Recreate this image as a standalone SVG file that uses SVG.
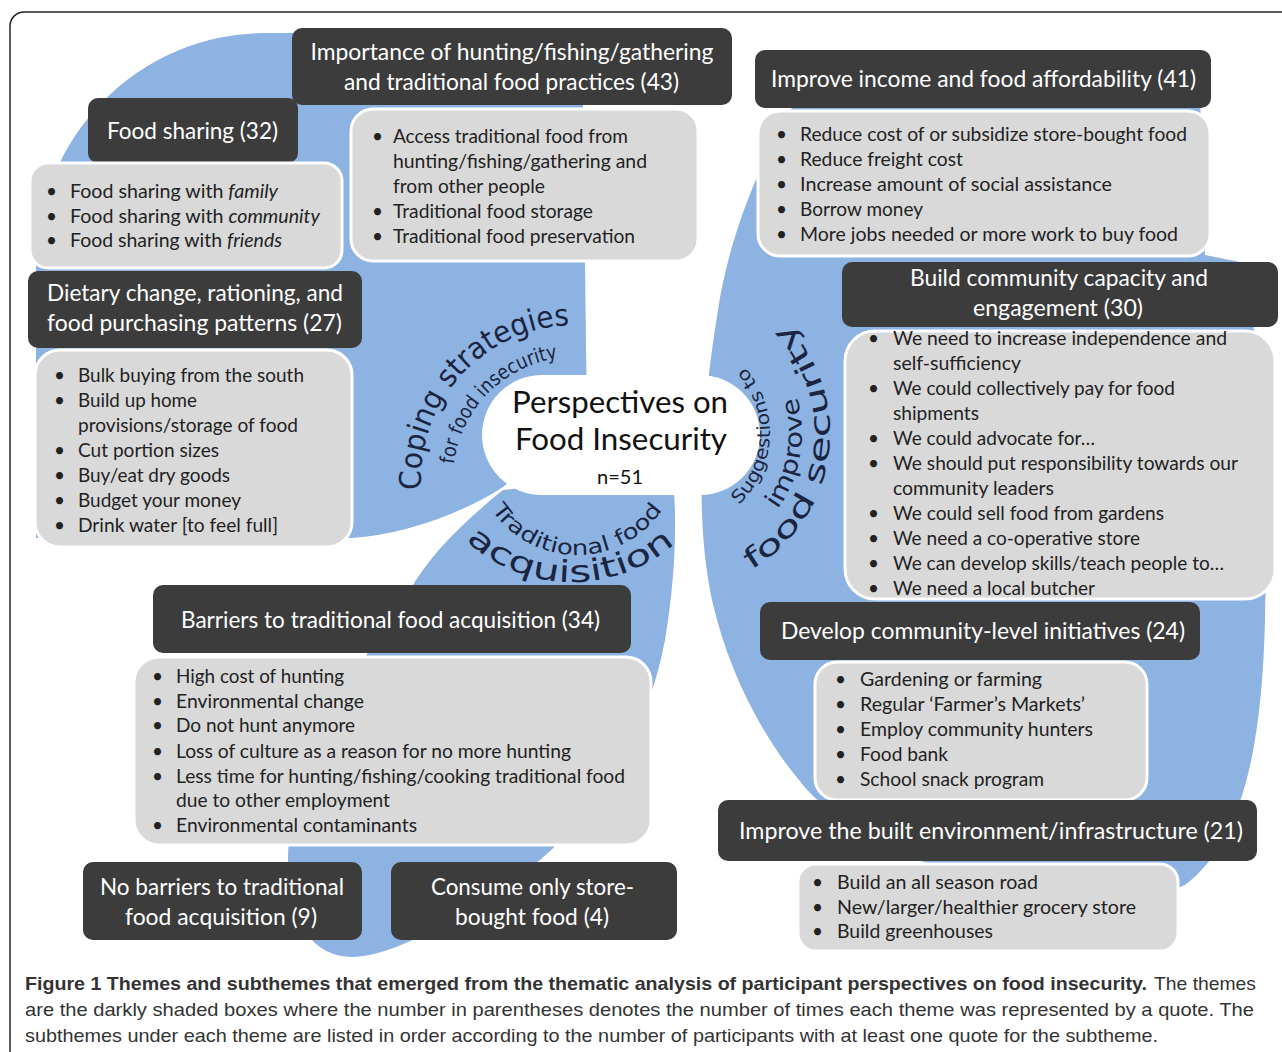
<svg xmlns="http://www.w3.org/2000/svg" width="1282" height="1052" viewBox="0 0 1282 1052">
<style>
.pet{fill:#8db3e2}
.dk{fill:#3c3c3c}
.gr{fill:#d9d9d9;stroke:#fff;stroke-width:3}
.tt{font-family:Lato,"Liberation Sans",sans-serif;font-size:23px;fill:#fff;text-anchor:middle}
.st{font-family:Lato,"Liberation Sans",sans-serif;font-size:19px;fill:#222}
.arc{font-family:"DejaVu Sans",Verdana,sans-serif;fill:#1b2440}
.ctr{font-family:Lato,"Liberation Sans",sans-serif;fill:#111;text-anchor:middle}
.cap{font-family:"Liberation Sans",Arial,sans-serif;font-size:19px;fill:#333}
</style>
<defs>
<path id="aCop" d="M 421.4,489.7 A 154,154 0 0 1 569.6,325.1"/>
<path id="aFor" d="M 453.9,464.1 A 122,122 0 0 1 558,358.2"/>
<path id="aTra" d="M 491.6,509.6 A 103,103 0 0 0 662.4,509.6"/>
<path id="aAcq" d="M 465.9,540.4 A 150,142 0 0 0 678.1,540.4"/>
<path id="aSug" d="M 738.8,504.7 A 98,98 0 0 0 744.8,367.4"/>
<path id="aImp" d="M 777.2,509.4 A 130,130 0 0 0 797,397.2"/>
<path id="aFoo" d="M 751,569.8 A 158,158 0 0 0 785.7,323.2"/>
</defs>
<rect width="1282" height="1052" fill="#fff"/>
<rect x="10" y="12" width="1320" height="1100" rx="14" fill="none" stroke="#222" stroke-width="1.5"/>

<g id="petals">
<path class="pet" d="M 582,33 L 265,33 A 229,233 0 0 0 36,266 L 36,538 L 352,538 C 400,535 460,515 503,487 L 587,420 Z"/>
<path class="pet" d="M 503,490 C 460,525 430,555 410,590 C 340,690 288,780 288,860 C 288,925 315,957 352,957 C 400,957 480,905 540,860 C 610,800 650,720 665,640 C 675,580 678,520 672,470 Z"/>
<path class="pet" d="M 800,95 C 765,150 730,230 718,310 C 700,420 695,520 712,600 C 730,680 770,750 812,795 C 880,860 1080,935 1185,885 C 1245,840 1262,740 1265,620 C 1268,480 1262,330 1240,262 L 1205,255 L 1200,95 Z"/>
</g>

<g id="center">
<rect x="482" y="375" width="278" height="120" rx="60" fill="#fff"/>
<text class="ctr" x="620" y="413" font-size="30" textLength="216" lengthAdjust="spacingAndGlyphs">Perspectives on</text>
<text class="ctr" x="621" y="450" font-size="30" textLength="212" lengthAdjust="spacingAndGlyphs">Food Insecurity</text>
<text class="ctr" x="620" y="484" font-size="20" textLength="46" lengthAdjust="spacingAndGlyphs">n=51</text>
</g>

<g id="arc-labels">
<text class="arc" font-size="30"><textPath href="#aCop" textLength="247" lengthAdjust="spacingAndGlyphs">Coping strategies</textPath></text>
<text class="arc" font-size="20"><textPath href="#aFor" textLength="159" lengthAdjust="spacingAndGlyphs">for food insecurity</textPath></text>
<text class="arc" font-size="21"><textPath href="#aTra" textLength="201" lengthAdjust="spacingAndGlyphs">Traditional food</textPath></text>
<text class="arc" font-size="30"><textPath href="#aAcq" textLength="229" lengthAdjust="spacingAndGlyphs">acquisition</textPath></text>
<text class="arc" font-size="18"><textPath href="#aSug" textLength="152" lengthAdjust="spacingAndGlyphs">Suggestions to</textPath></text>
<text class="arc" font-size="24"><textPath href="#aImp" textLength="118" lengthAdjust="spacingAndGlyphs">improve</textPath></text>
<text class="arc" font-size="28"><textPath href="#aFoo" textLength="287" lengthAdjust="spacingAndGlyphs">food security</textPath></text>
</g>

<g id="connectors"></g>

<g id="n-importance">
<rect class="dk" x="292" y="28" width="440" height="77" rx="10"/>
<text class="tt" x="512" y="60" textLength="403" lengthAdjust="spacingAndGlyphs">Importance of hunting/fishing/gathering</text>
<text class="tt" x="511.5" y="90" textLength="335" lengthAdjust="spacingAndGlyphs">and traditional food practices (43)</text>
</g>
<g id="n-importance-sub">
<rect class="gr" x="351" y="109" width="347" height="152" rx="22"/>
<text class="st" x="372" y="143">•</text><text class="st" x="393" y="143" textLength="235" lengthAdjust="spacingAndGlyphs">Access traditional food from</text>
<text class="st" x="393" y="168" textLength="254" lengthAdjust="spacingAndGlyphs">hunting/fishing/gathering and</text>
<text class="st" x="393" y="193" textLength="152" lengthAdjust="spacingAndGlyphs">from other people</text>
<text class="st" x="372" y="218">•</text><text class="st" x="393" y="218" textLength="200" lengthAdjust="spacingAndGlyphs">Traditional food storage</text>
<text class="st" x="372" y="243">•</text><text class="st" x="393" y="243" textLength="242" lengthAdjust="spacingAndGlyphs">Traditional food preservation</text>
</g>

<g id="n-foodsharing">
<rect class="dk" x="88" y="98" width="210" height="65" rx="10"/>
<text class="tt" x="192.5" y="139" textLength="171" lengthAdjust="spacingAndGlyphs">Food sharing (32)</text>
</g>
<g id="n-foodsharing-sub">
<rect class="gr" x="30" y="163" width="312" height="105" rx="18"/>
<text class="st" x="46" y="198">•</text><text class="st" x="70" y="198" textLength="208" lengthAdjust="spacingAndGlyphs">Food sharing with <tspan font-style="italic">family</tspan></text>
<text class="st" x="46" y="223">•</text><text class="st" x="70" y="223" textLength="250" lengthAdjust="spacingAndGlyphs">Food sharing with <tspan font-style="italic">community</tspan></text>
<text class="st" x="46" y="247">•</text><text class="st" x="70" y="247" textLength="212" lengthAdjust="spacingAndGlyphs">Food sharing with <tspan font-style="italic">friends</tspan></text>
</g>

<g id="n-dietary">
<rect class="dk" x="28" y="271" width="334" height="77" rx="10"/>
<text class="tt" x="195" y="301" textLength="296" lengthAdjust="spacingAndGlyphs">Dietary change, rationing, and</text>
<text class="tt" x="194.5" y="331" textLength="295" lengthAdjust="spacingAndGlyphs">food purchasing patterns (27)</text>
</g>
<g id="n-dietary-sub">
<rect class="gr" x="35" y="350" width="317" height="197" rx="25"/>
<text class="st" x="54" y="382">•</text><text class="st" x="78" y="382" textLength="226" lengthAdjust="spacingAndGlyphs">Bulk buying from the south</text>
<text class="st" x="54" y="407">•</text><text class="st" x="78" y="407" textLength="119" lengthAdjust="spacingAndGlyphs">Build up home</text>
<text class="st" x="78" y="432" textLength="220" lengthAdjust="spacingAndGlyphs">provisions/storage of food</text>
<text class="st" x="54" y="457">•</text><text class="st" x="78" y="457" textLength="141" lengthAdjust="spacingAndGlyphs">Cut portion sizes</text>
<text class="st" x="54" y="482">•</text><text class="st" x="78" y="482" textLength="152" lengthAdjust="spacingAndGlyphs">Buy/eat dry goods</text>
<text class="st" x="54" y="507">•</text><text class="st" x="78" y="507" textLength="163" lengthAdjust="spacingAndGlyphs">Budget your money</text>
<text class="st" x="54" y="532">•</text><text class="st" x="78" y="532" textLength="200" lengthAdjust="spacingAndGlyphs">Drink water [to feel full]</text>
</g>

<g id="n-income">
<rect class="dk" x="755" y="50" width="456" height="58" rx="10"/>
<text class="tt" x="983.5" y="87" textLength="425" lengthAdjust="spacingAndGlyphs">Improve income and food affordability (41)</text>
</g>
<g id="n-income-sub">
<rect class="gr" x="758" y="111" width="452" height="145" rx="22"/>
<text class="st" x="776" y="141">•</text><text class="st" x="800" y="141" textLength="387" lengthAdjust="spacingAndGlyphs">Reduce cost of or subsidize store-bought food</text>
<text class="st" x="776" y="166">•</text><text class="st" x="800" y="166" textLength="163" lengthAdjust="spacingAndGlyphs">Reduce freight cost</text>
<text class="st" x="776" y="191">•</text><text class="st" x="800" y="191" textLength="312" lengthAdjust="spacingAndGlyphs">Increase amount of social assistance</text>
<text class="st" x="776" y="216">•</text><text class="st" x="800" y="216" textLength="123" lengthAdjust="spacingAndGlyphs">Borrow money</text>
<text class="st" x="776" y="241">•</text><text class="st" x="800" y="241" textLength="378" lengthAdjust="spacingAndGlyphs">More jobs needed or more work to buy food</text>
</g>

<g id="n-capacity">
<rect class="dk" x="842" y="262" width="436" height="65" rx="10"/>
<text class="tt" x="1059" y="286" textLength="298" lengthAdjust="spacingAndGlyphs">Build community capacity and</text>
<text class="tt" x="1058" y="316" textLength="170" lengthAdjust="spacingAndGlyphs">engagement (30)</text>
</g>
<g id="n-capacity-sub">
<rect class="gr" x="845" y="331" width="430" height="268" rx="30"/>
<text class="st" x="868" y="345">•</text><text class="st" x="893" y="345" textLength="334" lengthAdjust="spacingAndGlyphs">We need to increase independence and</text>
<text class="st" x="893" y="370" textLength="128" lengthAdjust="spacingAndGlyphs">self-sufficiency</text>
<text class="st" x="868" y="395">•</text><text class="st" x="893" y="395" textLength="282" lengthAdjust="spacingAndGlyphs">We could collectively pay for food</text>
<text class="st" x="893" y="420" textLength="86" lengthAdjust="spacingAndGlyphs">shipments</text>
<text class="st" x="868" y="445">•</text><text class="st" x="893" y="445" textLength="202" lengthAdjust="spacingAndGlyphs">We could advocate for…</text>
<text class="st" x="868" y="470">•</text><text class="st" x="893" y="470" textLength="345" lengthAdjust="spacingAndGlyphs">We should put responsibility towards our</text>
<text class="st" x="893" y="495" textLength="161" lengthAdjust="spacingAndGlyphs">community leaders</text>
<text class="st" x="868" y="520">•</text><text class="st" x="893" y="520" textLength="271" lengthAdjust="spacingAndGlyphs">We could sell food from gardens</text>
<text class="st" x="868" y="545">•</text><text class="st" x="893" y="545" textLength="247" lengthAdjust="spacingAndGlyphs">We need a co-operative store</text>
<text class="st" x="868" y="570">•</text><text class="st" x="893" y="570" textLength="331" lengthAdjust="spacingAndGlyphs">We can develop skills/teach people to…</text>
<text class="st" x="868" y="595">•</text><text class="st" x="893" y="595" textLength="202" lengthAdjust="spacingAndGlyphs">We need a local butcher</text>
</g>

<g id="n-initiatives">
<rect class="dk" x="760" y="602" width="440" height="58" rx="10"/>
<text class="tt" x="983" y="639" textLength="404" lengthAdjust="spacingAndGlyphs">Develop community-level initiatives (24)</text>
</g>
<g id="n-initiatives-sub">
<rect class="gr" x="815" y="662" width="332" height="138" rx="22"/>
<text class="st" x="835" y="686">•</text><text class="st" x="860" y="686" textLength="182" lengthAdjust="spacingAndGlyphs">Gardening or farming</text>
<text class="st" x="835" y="711">•</text><text class="st" x="860" y="711" textLength="225" lengthAdjust="spacingAndGlyphs">Regular ‘Farmer’s Markets’</text>
<text class="st" x="835" y="736">•</text><text class="st" x="860" y="736" textLength="233" lengthAdjust="spacingAndGlyphs">Employ community hunters</text>
<text class="st" x="835" y="761">•</text><text class="st" x="860" y="761" textLength="88" lengthAdjust="spacingAndGlyphs">Food bank</text>
<text class="st" x="835" y="786">•</text><text class="st" x="860" y="786" textLength="184" lengthAdjust="spacingAndGlyphs">School snack program</text>
</g>

<g id="n-built">
<rect class="dk" x="718" y="800" width="539" height="61" rx="10"/>
<text class="tt" x="991" y="839" textLength="504" lengthAdjust="spacingAndGlyphs">Improve the built environment/infrastructure (21)</text>
</g>
<g id="n-built-sub">
<rect class="gr" x="798" y="864" width="380" height="87" rx="18"/>
<text class="st" x="812" y="889">•</text><text class="st" x="837" y="889" textLength="201" lengthAdjust="spacingAndGlyphs">Build an all season road</text>
<text class="st" x="812" y="914">•</text><text class="st" x="837" y="914" textLength="299" lengthAdjust="spacingAndGlyphs">New/larger/healthier grocery store</text>
<text class="st" x="812" y="938">•</text><text class="st" x="837" y="938" textLength="156" lengthAdjust="spacingAndGlyphs">Build greenhouses</text>
</g>

<g id="n-barriers">
<rect class="dk" x="153" y="585" width="478" height="68" rx="10"/>
<text class="tt" x="390.5" y="628" textLength="419" lengthAdjust="spacingAndGlyphs">Barriers to traditional food acquisition (34)</text>
</g>
<g id="n-barriers-sub">
<rect class="gr" x="134" y="657" width="517" height="188" rx="25"/>
<text class="st" x="152" y="683">•</text><text class="st" x="176" y="683" textLength="168" lengthAdjust="spacingAndGlyphs">High cost of hunting</text>
<text class="st" x="152" y="708">•</text><text class="st" x="176" y="708" textLength="188" lengthAdjust="spacingAndGlyphs">Environmental change</text>
<text class="st" x="152" y="732">•</text><text class="st" x="176" y="732" textLength="179" lengthAdjust="spacingAndGlyphs">Do not hunt anymore</text>
<text class="st" x="152" y="758">•</text><text class="st" x="176" y="758" textLength="395" lengthAdjust="spacingAndGlyphs">Loss of culture as a reason for no more hunting</text>
<text class="st" x="152" y="783">•</text><text class="st" x="176" y="783" textLength="449" lengthAdjust="spacingAndGlyphs">Less time for hunting/fishing/cooking traditional food</text>
<text class="st" x="176" y="807" textLength="214" lengthAdjust="spacingAndGlyphs">due to other employment</text>
<text class="st" x="152" y="832">•</text><text class="st" x="176" y="832" textLength="241" lengthAdjust="spacingAndGlyphs">Environmental contaminants</text>
</g>

<g id="n-nobarriers">
<rect class="dk" x="83" y="862" width="279" height="78" rx="10"/>
<text class="tt" x="222" y="895" textLength="244" lengthAdjust="spacingAndGlyphs">No barriers to traditional</text>
<text class="tt" x="221" y="925" textLength="192" lengthAdjust="spacingAndGlyphs">food acquisition (9)</text>
</g>
<g id="n-storebought">
<rect class="dk" x="391" y="862" width="286" height="78" rx="10"/>
<text class="tt" x="532.5" y="895" textLength="203" lengthAdjust="spacingAndGlyphs">Consume only store-</text>
<text class="tt" x="532" y="925" textLength="154" lengthAdjust="spacingAndGlyphs">bought food (4)</text>
</g>

<g id="caption">
<text class="cap" x="25" y="990" font-weight="bold" fill="#111" textLength="1122" lengthAdjust="spacingAndGlyphs">Figure 1 Themes and subthemes that emerged from the thematic analysis of participant perspectives on food insecurity.</text>
<text class="cap" x="1154" y="990" textLength="102" lengthAdjust="spacingAndGlyphs">The themes</text>
<text class="cap" x="25" y="1016" textLength="1229" lengthAdjust="spacingAndGlyphs">are the darkly shaded boxes where the number in parentheses denotes the number of times each theme was represented by a quote. The</text>
<text class="cap" x="25" y="1042" textLength="1133" lengthAdjust="spacingAndGlyphs">subthemes under each theme are listed in order according to the number of participants with at least one quote for the subtheme.</text>
</g>
</svg>
